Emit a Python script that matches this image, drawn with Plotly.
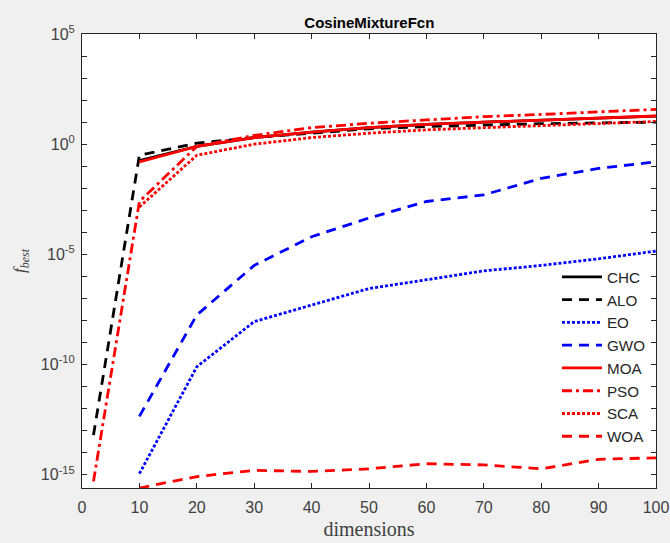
import plotly.graph_objects as go

# Problem dimensions evaluated
dims_full = [2, 10, 20, 30, 40, 50, 60, 70, 80, 90, 100]
dims = [10, 20, 30, 40, 50, 60, 70, 80, 90, 100]

# log10 of best objective value per algorithm
chc = [-0.75, -0.1, 0.3, 0.55, 0.75, 0.9, 1.0, 1.1, 1.2, 1.27]
alo = [-13.2, -0.5, 0.05, 0.3, 0.5, 0.7, 0.8, 0.88, 0.93, 0.97, 1.0]
eo = [-14.95, -10.1, -8.05, -7.3, -6.55, -6.15, -5.75, -5.5, -5.2, -4.85]
gwo = [-12.35, -7.75, -5.5, -4.2, -3.35, -2.6, -2.3, -1.55, -1.1, -0.8]
moa = [-0.8, -0.1, 0.3, 0.55, 0.75, 0.9, 1.0, 1.1, 1.2, 1.28]
pso = [-15.3, -2.6, -0.1, 0.4, 0.75, 0.95, 1.1, 1.25, 1.35, 1.45, 1.58]
sca = [-2.85, -0.5, 0.0, 0.3, 0.5, 0.65, 0.75, 0.85, 0.95, 1.03]
woa = [-15.6, -15.08, -14.8, -14.85, -14.73, -14.5, -14.55, -14.73, -14.3, -14.23]

series = [
    ("CHC", dims, chc, "black", "solid"),
    ("ALO", dims_full, alo, "black", "10px,7px"),
    ("EO", dims, eo, "blue", "3px,2px"),
    ("GWO", dims, gwo, "blue", "10px,7px"),
    ("MOA", dims, moa, "red", "solid"),
    ("PSO", dims_full, pso, "red", "10px,4px,3px,4px"),
    ("SCA", dims, sca, "red", "3px,2px"),
    ("WOA", dims, woa, "red", "10px,7px"),
]

fig = go.Figure()
for name, xs, ys, color, dash in series:
    fig.add_trace(go.Scatter(
        x=xs, y=[10 ** v for v in ys], name=name, mode="lines",
        line=dict(color=color, width=2.8, dash=dash),
    ))

label_exps = [-15, -10, -5, 0, 5]
ytick_vals = [10.0 ** e for e in range(-15, 6)]
ytick_text = [f"10<sup>{e}</sup>" if e in label_exps else "" for e in range(-15, 6)]

axis_common = dict(
    showline=True, linecolor="#262626", linewidth=1, mirror="ticks",
    ticks="inside", ticklen=5, tickcolor="#262626", showgrid=False, zeroline=False,
    automargin=False,
    tickfont=dict(family="Liberation Sans, Arial", size=16, color="#404040"),
)

fig.update_layout(
    width=670, height=543,
    paper_bgcolor="#f0f0f0", plot_bgcolor="white",
    margin=dict(l=82, r=14, t=34, b=55),
    title=dict(text="<b>CosineMixtureFcn</b>", x=0.5513, xanchor="center", y=0.958, yanchor="middle",
               font=dict(family="Liberation Sans, Arial", size=15, color="black")),
    xaxis=dict(range=[0, 100], tickvals=list(range(0, 101, 10)), ticklabelstandoff=5,
               title=dict(text="dimensions", standoff=6,
                          font=dict(family="Liberation Serif, DejaVu Serif", size=20, color="#404040")),
               **axis_common),
    yaxis=dict(type="log", range=[-15.6, 5], tickvals=ytick_vals, ticktext=ytick_text,
               ticklabelstandoff=3,
               title=dict(text="<i>f</i><sub><i>best</i></sub>", standoff=10,
                          font=dict(family="Liberation Serif, DejaVu Serif", size=17, color="#404040")),
               **axis_common),
    legend=dict(x=0.8275, xanchor="left", y=0.501, yanchor="top",
                bgcolor="rgba(255,255,255,0)", borderwidth=0, tracegroupgap=0,
                font=dict(family="Liberation Sans, Arial", size=15.2, color="#262626"),
                itemwidth=40),
    showlegend=True,
)

fig.write_html("out.html")
